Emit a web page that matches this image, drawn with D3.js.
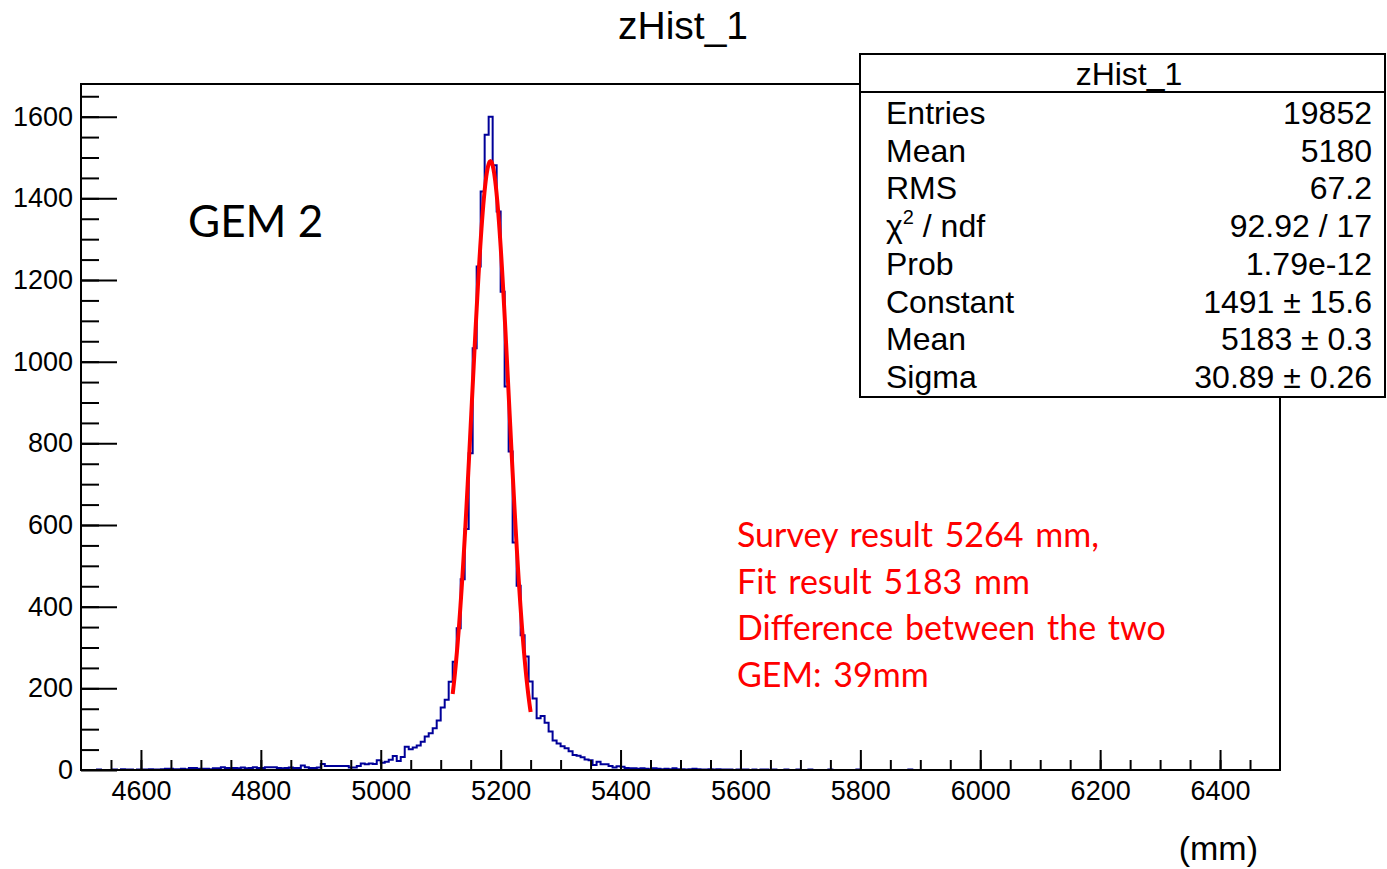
<!DOCTYPE html>
<html>
<head>
<meta charset="utf-8">
<script src="https://cdn.jsdelivr.net/npm/d3@7"></script>
<style>
  body { margin: 0; background: #fff; }
  text { font-family: 'Liberation Sans', Arial, Helvetica, sans-serif; fill: #000; }
  .note { font-family: Lato, 'Open Sans', sans-serif; }
</style>
</head>
<body>
<svg id="chart" width="1387" height="869"></svg>
<script>
// histogram binning
const xMin = 4500, xMax = 6500, nBins = 300;

// bin contents
const countsLowTail = [
  0, 0, 0, 0, 1, 0, 0, 0, 1, 0,
  2, 1, 1, 0, 1, 1, 1, 2, 1, 1, 2,
  3, 3, 2, 2, 3, 2, 5, 5, 3, 3,
  3, 2, 4, 4, 7, 5, 4, 5, 4, 6,
  4, 5, 7, 5, 5, 7, 7, 7, 5, 4,
  5, 6, 5, 5, 11, 7, 5, 5, 6, 15,
  10, 10, 10, 10, 10, 10, 6, 6, 10, 16, 14
];
const countsCore = [
  16, 15, 24, 18, 20, 25, 34, 22, 32, 57,
  51, 55, 60, 69, 82, 90, 102, 121, 153, 172,
  216, 265, 347, 467, 590, 776, 1033, 1233, 1417, 1556,
  1600, 1481, 1368, 1171, 939, 780, 557, 451, 330, 278,
  217, 175, 127, 132, 116, 94, 72, 65, 58, 53,
  46, 37, 35, 31, 26, 24, 12, 20, 14, 14,
  10, 6, 9, 8, 5, 4, 4, 3, 4
];
const countsHighTail = [
  3, 2, 4, 3, 2, 3, 2, 4, 2, 2,
  1, 2, 3, 2, 1, 1, 2, 1, 2, 1,
  1, 1, 0, 1, 1, 1, 0, 1, 0, 1,
  1, 0, 1, 0, 0, 1, 0, 0, 1, 0,
  0, 1, 0, 0, 0, 0, 1, 0, 0, 0,
  0, 0, 0, 1, 0, 0, 0, 0, 0, 0,
  0, 0, 0, 0, 0, 0, 1, 0, 0, 0,
  0, 0, 0, 0, 0, 0, 0, 0, 0, 0,
  0, 0, 0, 0, 0, 0, 0, 0, 0, 0,
  0, 0, 0, 0, 0, 0, 0, 0, 0, 0,
  0, 0, 0, 0, 0, 0, 0, 0, 0, 0,
  0, 0, 0, 0, 0, 0, 0, 0, 0, 0,
  0, 0, 0, 0, 0, 0, 0, 0, 0, 0,
  0, 0, 0, 0, 0, 0, 0, 0, 0, 0,
  0, 0, 0, 0, 0, 0, 0, 0, 0, 0,
  0, 0, 0, 0, 0, 0, 0, 0, 0
];
const counts = countsLowTail.concat(countsCore, countsHighTail);

// gaussian fit
const fitConstant = 1491, fitMean = 5183, fitSigma = 30.89;
const fitRange = [5120, 5250];

// axes
const xTickValues = [4600, 4800, 5000, 5200, 5400, 5600, 5800, 6000, 6200, 6400];
const yTickValues = [0, 200, 400, 600, 800, 1000, 1200, 1400, 1600];
const yMax = 1680;

// stats box
const statTitle = 'zHist_1';
const statLabels = ['Entries', 'Mean', 'RMS', 'chi2', 'Prob', 'Constant', 'Mean', 'Sigma'];
const statValues = ['19852', '5180', '67.2', '92.92 / 17', '1.79e-12', '1491 \u00b1 15.6', '5183 \u00b1 0.3', '30.89 \u00b1 0.26'];

const noteLines = ['Survey result 5264 mm,', 'Fit result 5183 mm', 'Difference between the two', 'GEM: 39mm'];

const frame = {left: 81, top: 84, right: 1280, bottom: 770};

const svg = d3.select('#chart');
svg.append('rect').attr('width', 1387).attr('height', 869).attr('fill', '#fff');

const x = d3.scaleLinear().domain([xMin, xMax]).range([frame.left, frame.right]);
const y = d3.scaleLinear().domain([0, yMax]).range([frame.bottom, frame.top]);

const binWidth = (xMax - xMin) / nBins;

// histogram outline
const pts = [[xMin, 0]];
counts.forEach((c, i) => pts.push([xMin + i * binWidth, c]));
pts.push([xMax, counts[counts.length - 1]]);
pts.push([xMax, 0]);

const step = d3.line()
  .x(d => x(d[0]))
  .y(d => y(d[1]))
  .curve(d3.curveStepAfter);

svg.append('path')
  .attr('d', step(pts))
  .attr('fill', 'none')
  .attr('stroke', '#000099')
  .attr('stroke-width', 2);

// fit curve
const fitPts = d3.range(fitRange[0], fitRange[1] + 0.01, 1).map(v =>
  [v, fitConstant * Math.exp(-0.5 * Math.pow((v - fitMean) / fitSigma, 2))]);
svg.append('path')
  .attr('d', d3.line().x(d => x(d[0])).y(d => y(d[1])).curve(d3.curveLinear)(fitPts))
  .attr('fill', 'none')
  .attr('stroke', '#ff0000')
  .attr('stroke-width', 4);

// frame
svg.append('rect')
  .attr('x', frame.left).attr('y', frame.top)
  .attr('width', frame.right - frame.left)
  .attr('height', frame.bottom - frame.top)
  .attr('fill', 'none')
  .attr('stroke', '#000')
  .attr('stroke-width', 2);

// x axis: minor then major
svg.append('g')
  .attr('transform', 'translate(0,' + frame.bottom + ')')
  .call(d3.axisBottom(x).tickValues(d3.range(xMin + 50, xMax, 50)).tickSize(-10).tickFormat(''))
  .call(g => g.select('.domain').remove());
svg.append('g')
  .attr('class', 'xaxis')
  .attr('transform', 'translate(0,' + frame.bottom + ')')
  .call(d3.axisBottom(x).tickValues(xTickValues).tickSize(-20).tickPadding(11).tickFormat(d3.format('d')))
  .call(g => g.select('.domain').remove());

// y axis
svg.append('g')
  .attr('transform', 'translate(' + frame.left + ',0)')
  .call(d3.axisLeft(y).tickValues(d3.range(50, yMax, 50)).tickSize(-18).tickFormat(''))
  .call(g => g.select('.domain').remove());
svg.append('g')
  .attr('class', 'yaxis')
  .attr('transform', 'translate(' + frame.left + ',0)')
  .call(d3.axisLeft(y).tickValues(yTickValues).tickSize(-36).tickPadding(8).tickFormat(d3.format('d')))
  .call(g => g.select('.domain').remove());

svg.selectAll('.tick line').attr('stroke', '#000').attr('stroke-width', 2);
svg.selectAll('.xaxis text, .yaxis text')
  .style('font-family', "'Liberation Sans', Arial, sans-serif")
  .style('font-size', '27px')
  .attr('fill', '#000');

// titles
svg.append('text')
  .attr('x', 683).attr('y', 39)
  .attr('text-anchor', 'middle')
  .style('font-size', '39px')
  .text('zHist_1');

svg.append('text')
  .attr('x', 1258).attr('y', 860)
  .attr('text-anchor', 'end')
  .style('font-size', '34px')
  .text('(mm)');

// annotations
svg.append('text')
  .attr('class', 'note')
  .attr('x', 188).attr('y', 237)
  .style('font-size', '44px')
  .text('GEM 2');

svg.selectAll('text.redline')
  .data(noteLines)
  .enter()
  .append('text')
  .attr('class', 'note redline')
  .attr('x', 737)
  .attr('y', (d, i) => 547 + i * 46.7)
  .style('font-size', '34px')
  .style('word-spacing', '3px')
  .style('fill', '#ff0000')
  .text(d => d);

// stats box
const box = svg.append('g');
box.append('rect')
  .attr('x', 860).attr('y', 54)
  .attr('width', 525).attr('height', 343)
  .attr('fill', '#fff')
  .attr('stroke', '#000')
  .attr('stroke-width', 2);
box.append('line')
  .attr('x1', 860).attr('x2', 1385)
  .attr('y1', 92).attr('y2', 92)
  .attr('stroke', '#000')
  .attr('stroke-width', 2);
box.append('text')
  .attr('x', 1129).attr('y', 85)
  .attr('text-anchor', 'middle')
  .style('font-size', '32px')
  .text(statTitle);

statLabels.forEach((lab, i) => {
  const by = 124 + i * 37.7;
  const t = box.append('text')
    .attr('x', 886).attr('y', by)
    .style('font-size', '32px');
  if (lab === 'chi2') {
    t.append('tspan').text('\u03c7');
    t.append('tspan').attr('dy', -13).style('font-size', '20px').text('2');
    t.append('tspan').attr('dy', 13).text(' / ndf');
  } else {
    t.text(lab);
  }
  box.append('text')
    .attr('x', 1372).attr('y', by)
    .attr('text-anchor', 'end')
    .style('font-size', '32px')
    .text(statValues[i]);
});
</script>
</body>
</html>
